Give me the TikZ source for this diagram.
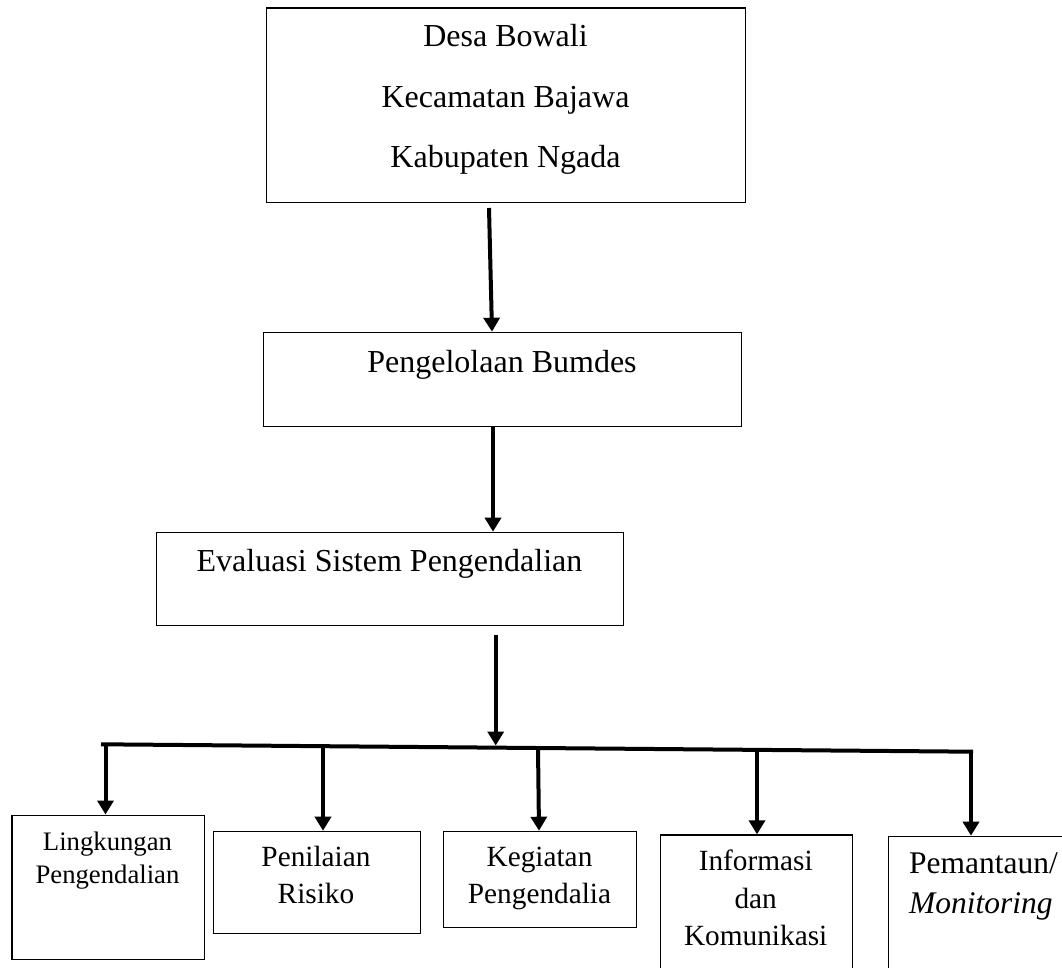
\documentclass[tikz,border=0pt]{standalone}
\usepackage{fontspec}
\setmainfont{Liberation Serif}
\usetikzlibrary{arrows.meta}
\begin{document}
\begin{tikzpicture}[x=1pt,y=-1pt,
  box/.style={draw=black,line width=1.2pt,rectangle,inner sep=0pt,anchor=north west},
  lbl/.style={inner sep=0pt,anchor=base,font=\fontsize{32}{38}\selectfont},
  lblm/.style={inner sep=0pt,anchor=base,font=\fontsize{29.3}{34}\selectfont},
  lbls/.style={inner sep=0pt,anchor=base,font=\fontsize{26.7}{32}\selectfont},
  lbll/.style={inner sep=0pt,anchor=base west,font=\fontsize{31.5}{38}\selectfont},
  arr/.style={line width=4pt,-{Triangle[width=16pt,length=14pt]}},
  bus/.style={line width=4pt}]
\useasboundingbox (0,0) rectangle (1062,968);
\clip (0,0) rectangle (1062,968);
% boxes
\node[box,minimum width=479pt,minimum height=194.2pt] (top) at (266,7.5) {};
\node[box,minimum width=478pt,minimum height=93.8pt] (bum) at (263,331.7) {};
\node[box,minimum width=467pt,minimum height=93.3pt] (eva) at (156,531.7) {};
\node[box,minimum width=192.1pt,minimum height=144pt] (lin) at (11.4,814.5) {};
\node[box,minimum width=206.8pt,minimum height=102pt] (pen) at (213,830.7) {};
\node[box,minimum width=192.6pt,minimum height=96pt] (keg) at (443.2,830.7) {};
\node[box,minimum width=192.2pt,minimum height=160pt] (inf) at (659.6,834.3) {};
\node[box,minimum width=202pt,minimum height=160pt] (mon) at (888,835.7) {};
% texts
\node[lbl] (t1) at (505.5,46.7) {Desa Bowali};
\node[lbl] (t2) at (505.5,108) {Kecamatan Bajawa};
\node[lbl] (t3) at (505.5,168) {Kabupaten Ngada};
\node[lbl] (t4) at (502,372) {Pengelolaan Bumdes};
\node[lbl] (t5) at (389.5,571.7) {Evaluasi Sistem Pengendalian};
\node[lbls] (t6) at (107.5,850) {Lingkungan};
\node[lbls] (t7) at (107.5,883.3) {Pengendalian};
\node[lblm] (t8) at (316,866.7) {Penilaian};
\node[lblm] (t9) at (316,903.3) {Risiko};
\node[lblm] (t10) at (539.5,866.7) {Kegiatan};
\node[lblm] (t11) at (539.5,903.3) {Pengendalia};
\node[lblm] (t12) at (755.7,870) {Informasi};
\node[lblm] (t13) at (755.7,908.3) {dan};
\node[lblm] (t14) at (755.7,945) {Komunikasi};
\node[lbll] (t15) at (909,873.3) {Pemantaun/};
\node[lbll] (t16) at (909,913.3) {\itshape Monitoring};
% connectors
\coordinate (a1s) at (489,208);
\coordinate (a1e) at (492,331.7);
\draw[arr] (a1s) -- (a1e);
\coordinate (a2s) at (493,425.5);
\draw[arr] (a2s) -- (a2s |- eva.north);
\coordinate (a3s) at (495.7,635);
\coordinate (a3e) at (495.7,745.5);
\draw[arr] (a3s) -- (a3e);
\coordinate (busl) at (101,744.3);
\coordinate (busr) at (973,751.7);
\draw[bus] (busl) -- (busr);
\coordinate (j1) at (105.5,744.3);
\coordinate (j2) at (323,746.2);
\coordinate (j3) at (538,748.0);
\coordinate (j4) at (757,749.9);
\coordinate (j5) at (971,751.7);
\draw[arr] (j1) -- (j1 |- lin.north);
\draw[arr] (j2) -- (j2 |- pen.north);
\draw[arr] (j3) -- (539,830.7);
\draw[arr] (j4) -- (j4 |- inf.north);
\draw[arr] (j5) -- (j5 |- mon.north);
\end{tikzpicture}
\end{document}
